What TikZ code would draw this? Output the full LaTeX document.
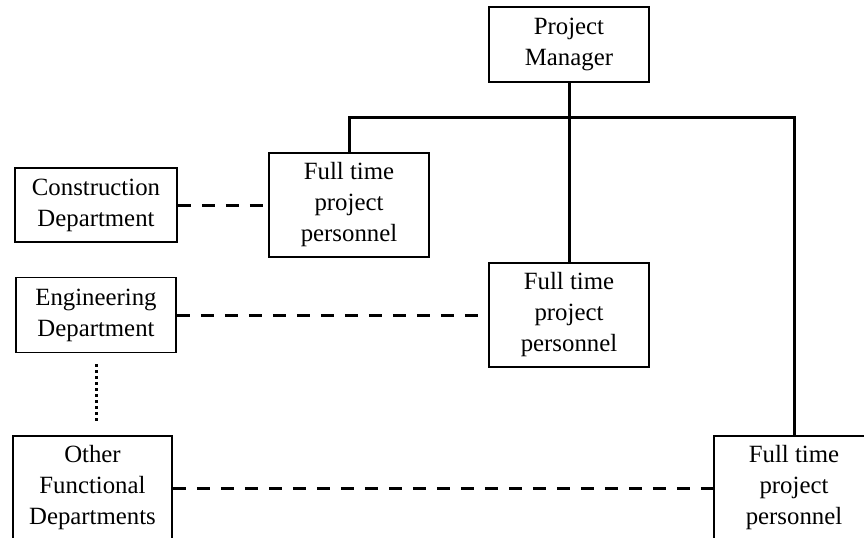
\documentclass[tikz,border=0pt]{standalone}
\usepackage{fontspec}
\setmainfont{Liberation Serif}
\usetikzlibrary{positioning}

\begin{document}
\begin{tikzpicture}[x=0.5pt, y=-0.5pt,
        every node/.style={align=center, font=\fontsize{12.4}{15.5}\selectfont},
        unit/.style={draw, line width=0.75pt, inner sep=0pt, minimum width=80pt},
        link/.style={line width=1.5pt},
        loose/.style={link, dash pattern=on 6.5pt off 5.5pt},
        other/.style={line width=1.5pt, dash pattern=on 1.5pt off 1.5pt}]
        \useasboundingbox (0,0) rectangle (864,537);
        \clip (0,0) rectangle (864,537);

        \node[unit, minimum height=37.5pt] (pm) at (569,44.5) {Project\\Manager};
        \node[unit, minimum height=52pt] (pp1) at (349,205) {Full time\\project\\personnel};
        \node[unit, minimum height=52pt] (pp2) at (569,315) {Full time\\project\\personnel};
        \node[unit, minimum height=52pt] (pp3) at (794,488) {Full time\\project\\personnel};
        \node[unit, minimum width=81pt, minimum height=37pt] (con) at (96,205) {Construction\\Department};
        \node[unit, minimum height=37.5pt] (eng) at (96,315) {Engineering\\Department};
        \node[unit, minimum width=79.5pt, minimum height=52pt] (oth) at (92.5,488) {Other\\Functional\\Departments};
        \coordinate (bar) at (569,117);

        \draw[link] (pm) -- (pp2);
        \draw[link] (pp1.north) |- (bar) -| (pp3.north);
        \draw[loose] (con) -- (pp1);
        \draw[loose] (eng) -- (pp2);
        \draw[loose] (oth) -- (pp3);
        \draw[other] ([yshift=-5.5pt]eng.south) -- ([yshift=6.5pt]eng.south |- oth.north);
    \end{tikzpicture}
\end{document}
